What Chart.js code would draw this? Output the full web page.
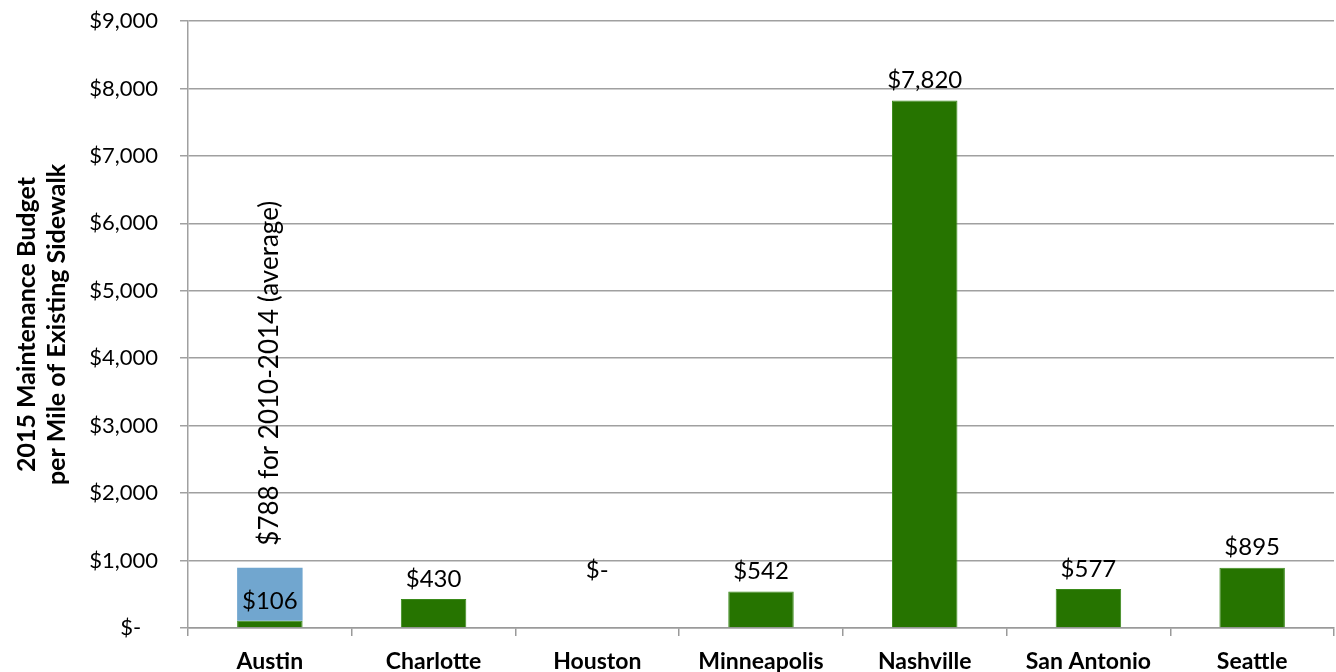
<!DOCTYPE html>
<html>
<head>
<meta charset="utf-8">
<script src="https://cdn.jsdelivr.net/npm/chart.js@4/dist/chart.umd.min.js"></script>
<style>
  html, body { margin: 0; padding: 0; background: #fff; }
  .chart-container { width: 1336px; height: 672px; }
</style>
</head>
<body>
<div class="chart-container">
  <canvas id="budgetChart" width="1336" height="672"></canvas>
</div>
<script>
// Sidewalk maintenance budget per mile, by city
const cities = ['Austin', 'Charlotte', 'Houston', 'Minneapolis', 'Nashville', 'San Antonio', 'Seattle'];
const budget2015 = [106, 430, 0, 542, 7820, 577, 895];
const avg2010to2014 = [788, 0, 0, 0, 0, 0, 0];
const yTicks = [0, 1000, 2000, 3000, 4000, 5000, 6000, 7000, 8000, 9000];
const yTitle = ['2015 Maintenance Budget', 'per Mile of Existing Sidewalk'];
const avgNote = '$788 for 2010-2014 (average)';

const FONT = 'Lato, "Open Sans", sans-serif';

const fmtDollar = v => (v === 0 ? '$-' : '$' + v.toLocaleString('en-US'));

// Draws the value labels over the bars
const barLabels = {
  id: 'barLabels',
  afterDatasetsDraw(chart) {
    const ctx = chart.ctx;
    const y = chart.scales.y;
    ctx.save();
    ctx.fillStyle = '#000';

    ctx.font = '24px ' + FONT;
    const green = chart.getDatasetMeta(0);
    green.data.forEach((bar, i) => {
      const v = budget2015[i];
      ctx.textAlign = 'center';
      ctx.textBaseline = 'middle';
      // empty bars get their label lifted a bit
      const ty = v === 0 ? y.getPixelForValue(0) - 58 : bar.y - 20;
      ctx.fillText(fmtDollar(v), bar.x, ty);
    });

    ctx.font = '26px ' + FONT;
    const blue = chart.getDatasetMeta(1);
    blue.data.forEach((bar, i) => {
      if (!avg2010to2014[i]) return;
      ctx.save();
      ctx.translate(bar.x, bar.y - 22);
      ctx.rotate(-Math.PI / 2);
      ctx.textAlign = 'left';
      ctx.textBaseline = 'middle';
      ctx.fillText(avgNote, 0, 0);
      ctx.restore();
    });
    ctx.restore();
  }
};

new Chart(document.getElementById('budgetChart'), {
  type: 'bar',
  data: {
    labels: cities,
    datasets: [
      {
        label: '2015',
        data: budget2015,
        backgroundColor: '#267400',
        borderColor: '#3a8a1a',
        borderWidth: 1,
        barPercentage: 0.4,
        categoryPercentage: 1
      },
      {
        label: '2010-2014 average',
        data: avg2010to2014,
        backgroundColor: '#71a6cf',
        borderWidth: 0,
        barPercentage: 0.4,
        categoryPercentage: 1
      }
    ]
  },
  options: {
    responsive: false,
    animation: false,
    layout: { padding: { top: 21, right: 2, bottom: 0, left: 0 } },
    plugins: { legend: { display: false }, tooltip: { enabled: false } },
    scales: {
      x: {
        stacked: true,
        offset: true,
        grid: {
          offset: true,
          drawOnChartArea: false,
          color: '#9a9a9a',
          tickLength: 8,
          lineWidth: 1.5
        },
        border: { color: '#9a9a9a', width: 1.5 },
        ticks: {
          color: '#000',
          font: { family: FONT, size: 23, weight: 'bold' },
          padding: 12
        },
        afterFit: s => { s.height = 44; }
      },
      y: {
        stacked: true,
        min: 0,
        max: 9000,
        afterBuildTicks: s => { s.ticks = yTicks.map(v => ({ value: v })); },
        grid: { color: '#a0a0a0', tickLength: 8, lineWidth: 1.5 },
        border: { color: '#a0a0a0', width: 1.5 },
        ticks: {
          color: '#000',
          font: { family: FONT, size: 22 },
          padding: 22,
          callback: v => (v === 0 ? '$-   ' : fmtDollar(v))
        },
        title: {
          display: true,
          text: yTitle,
          color: '#000',
          font: { family: FONT, size: 25, weight: 'bold' },
          padding: { top: 12, bottom: 0 }
        },
        afterFit: s => {
          s.width = 188;
          s.paddingTop = 0;
          s.paddingBottom = 0;
        }
      }
    }
  },
  plugins: [barLabels]
});
</script>
</body>
</html>
